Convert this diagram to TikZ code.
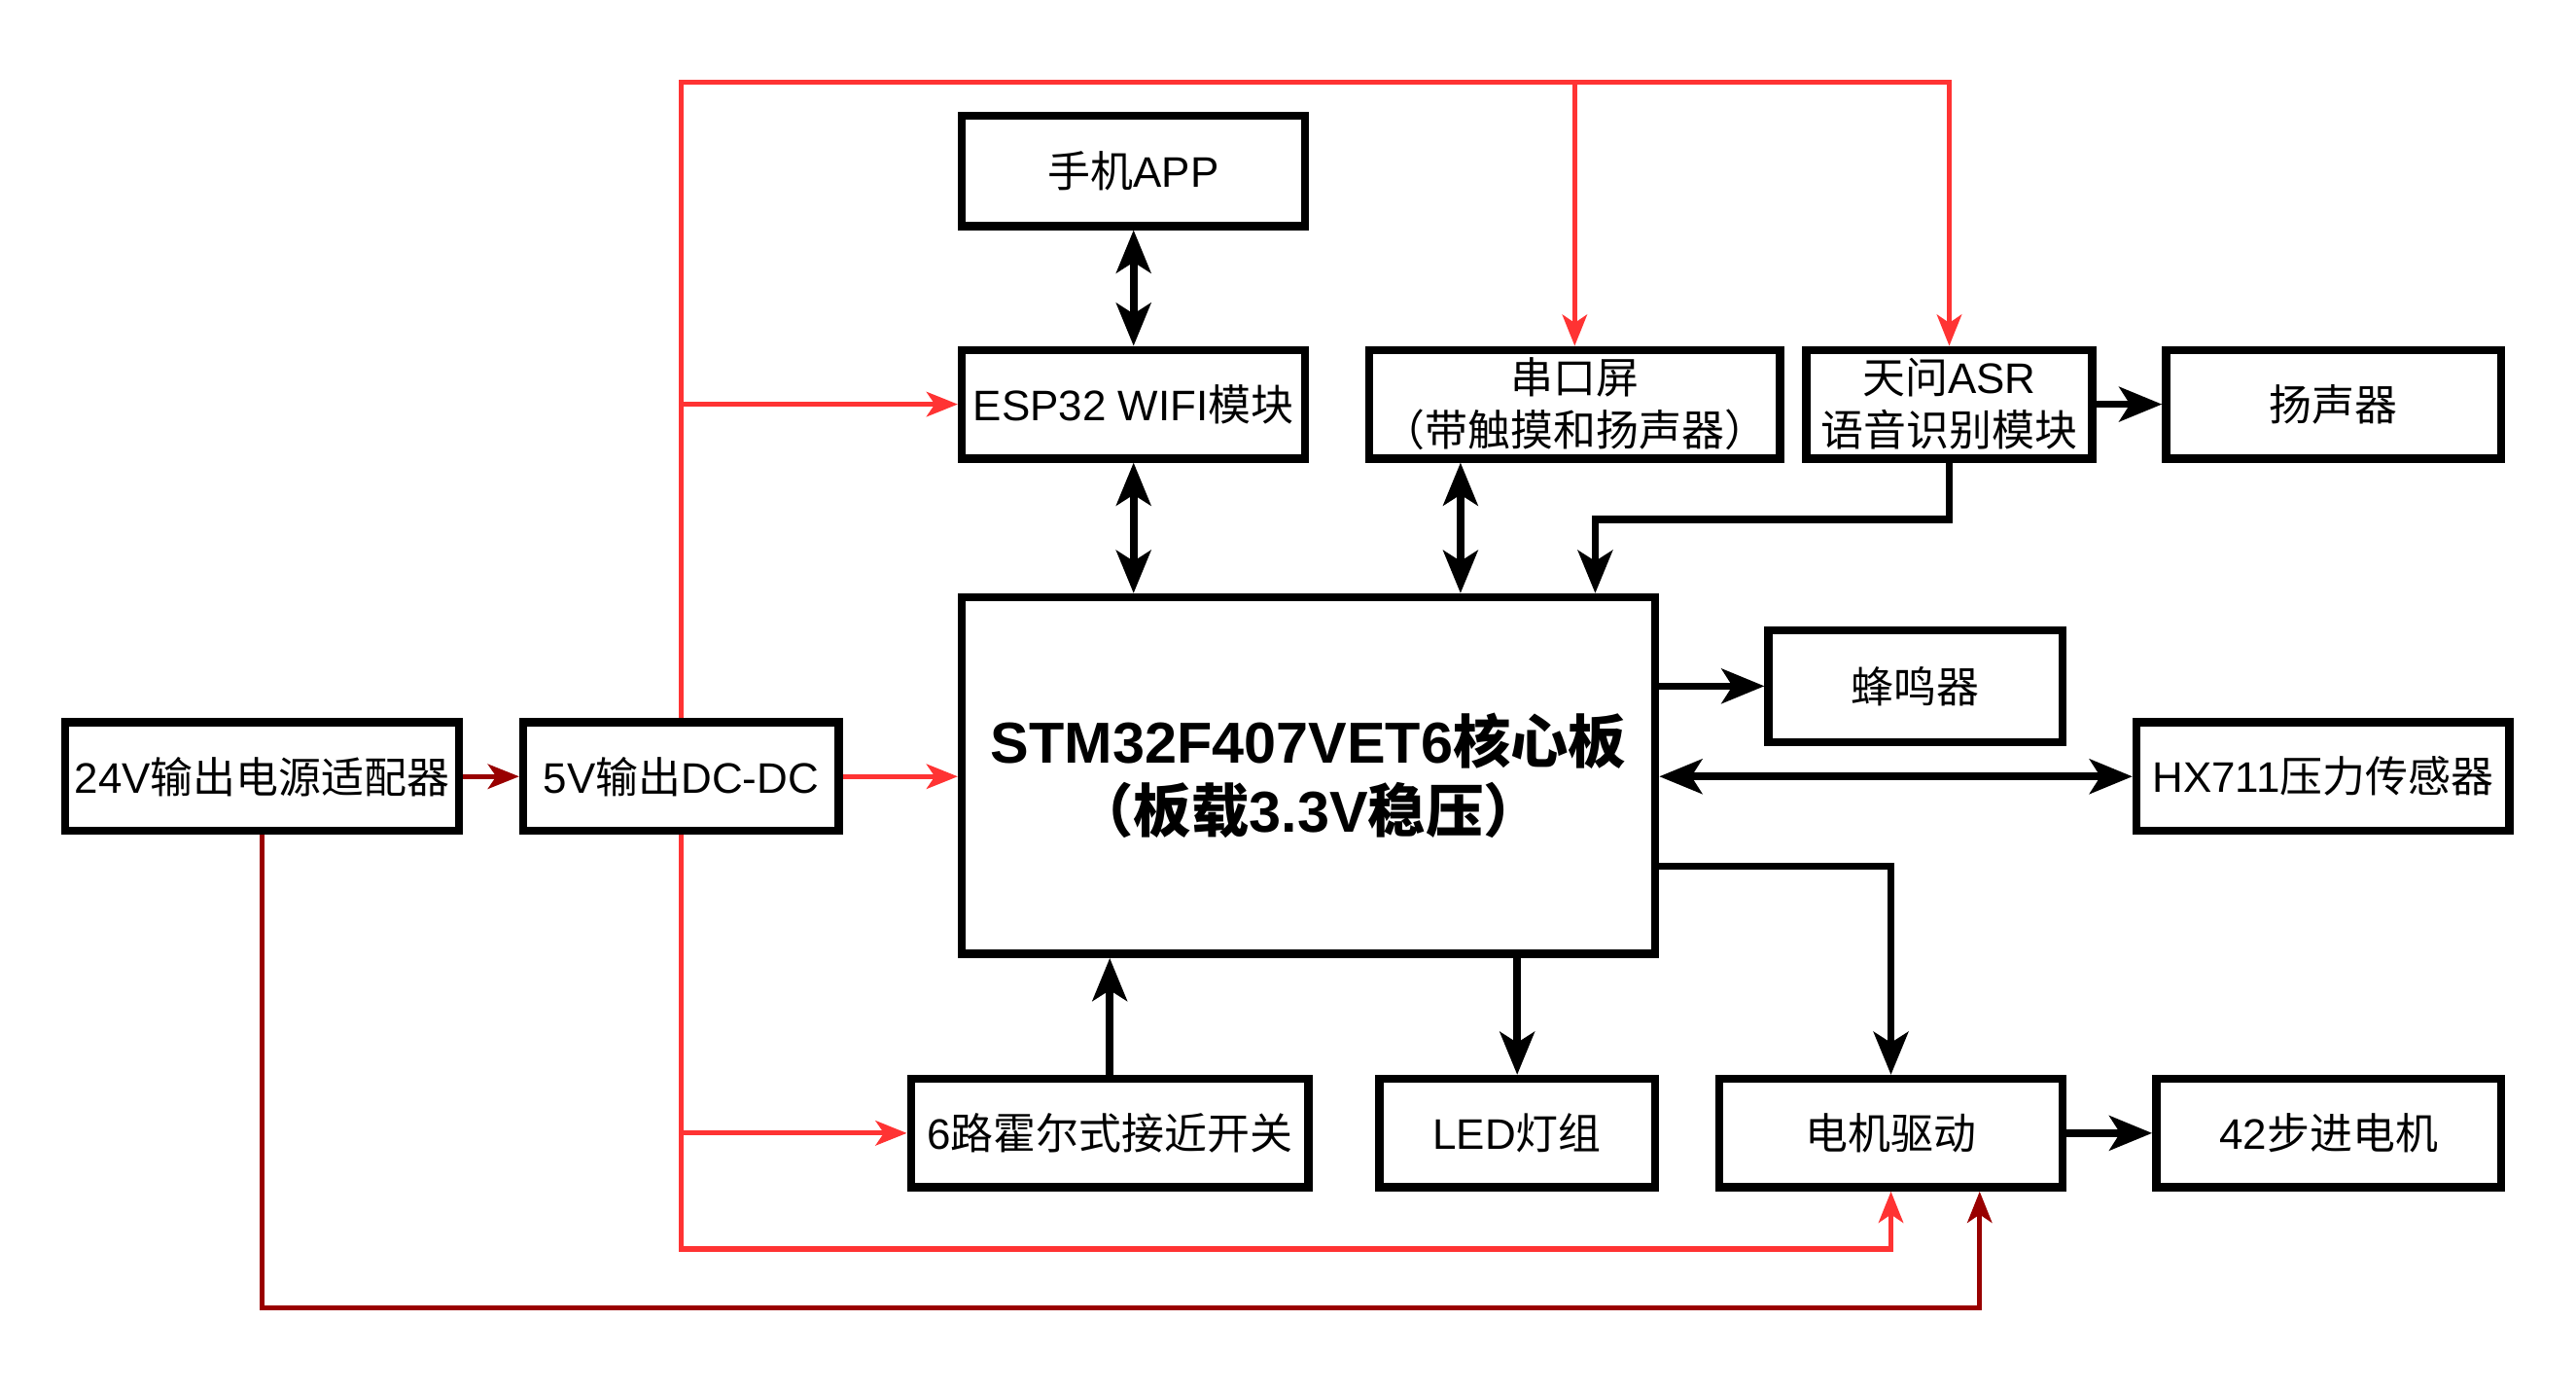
\documentclass[tikz,border=0pt]{standalone}
\usepackage{fontspec}
\setmainfont{Liberation Sans}
\newfontfamily\cjk{Noto Sans CJK SC}
\newcommand\zh[1]{{\cjk #1}}
\usepackage{xcolor}
\usetikzlibrary{arrows.meta, positioning}
\definecolor{pwrred}{HTML}{FF3333}
\definecolor{pwrdark}{HTML}{990000}

\begin{document}
\begin{tikzpicture}[x=0.2mm, y=-0.2mm,
    >={Stealth[length=5.2mm, width=4.2mm, inset=1.3mm]},
    blk/.style={draw, line width=1mm, minimum height=13.2mm, inner sep=0pt,
        align=center, font=\fontsize{14.8}{18.2}\selectfont},
    sig/.style={line width=0.9mm},
    pwr/.style={line width=0.6mm, pwrred, -{Stealth[length=3.8mm, width=3mm, inset=1mm]}},
    pwrin/.style={line width=0.6mm, pwrdark, -{Stealth[length=3.8mm, width=3mm, inset=1mm]}}]
    \useasboundingbox (0,0) rectangle (1568,847);
    % 模块
    \node[blk, minimum width=48mm] (adp) at (159.5,472.5) {24V\zh{输出电源适配器}};
    \node[blk, minimum width=38.4mm] (dcdc) at (414.5,472.5) {5V\zh{输出}DC-DC};
    \node[blk, minimum width=41.8mm, minimum height=13.4mm] (app) at (690,104) {\zh{手机}APP};
    \node[blk, minimum width=41.8mm] (esp) at (690,246) {ESP32 WIFI\zh{模块}};
    \node[blk, minimum width=50mm] (lcd) at (958.5,246) {\zh{串口屏}\\\zh{（带触摸和扬声器）}};
    \node[blk, minimum width=34.8mm] (asr) at (1186.5,246) {\zh{天问}ASR\\\zh{语音识别模块}};
    \node[blk, minimum width=40.8mm] (spk) at (1420.5,246) {\zh{扬声器}};
    \node[blk, minimum width=84.4mm, minimum height=43.4mm,
        font=\fontsize{20}{24}\selectfont\bfseries] (mcu) at (796.5,472)
        {STM32F407VET6\zh{\bfseries 核心板}\\\zh{\bfseries （板载}3.3V\zh{\bfseries 稳压）}};
    \node[blk, minimum width=35.8mm, minimum height=13.6mm] (buz) at (1166,417.5) {\zh{蜂鸣器}};
    \node[blk, minimum width=45.4mm] (hx) at (1414,472.5) {HX711\zh{压力传感器}};
    \node[blk, minimum width=48.4mm] (hall) at (675.5,689.5) {6\zh{路霍尔式接近开关}};
    \node[blk, minimum width=33.6mm] (led) at (923.5,689.5) {LED\zh{灯组}};
    \node[blk, minimum width=41.8mm] (drv) at (1151,689.5) {\zh{电机驱动}};
    \node[blk, minimum width=42mm] (stp) at (1417.5,689.5) {42\zh{步进电机}};

    % 折线拐点
    \coordinate (lcdbus) at (889,282);
    \coordinate (asrbend) at (971,316);
    \coordinate (drvbus) at (1152,527);
    \coordinate (top5) at (414,50);
    \coordinate (bot5) at (414,760);
    \coordinate (loop24) at (1205,796);

    % 信号线
    \draw[sig, <->] (app) -- (esp);
    \draw[sig, <->] (esp.south) -- (esp.south |- mcu.north);
    \draw[sig, <->] (lcd.south -| lcdbus) -- (mcu.north -| lcdbus);
    \draw[sig, ->] (asr.south) |- (asrbend) -- (asrbend |- mcu.north);
    \draw[sig, ->] (asr) -- (spk);
    \draw[sig, ->] (mcu.east |- buz) -- (buz);
    \draw[sig, <->] (mcu.east |- hx) -- (hx);
    \draw[sig, ->] (mcu.east |- drvbus) -| (drv.north);
    \draw[sig, ->] (hall.north) -- (hall.north |- mcu.south);
    \draw[sig, ->] (mcu.south -| led) -- (led.north);
    \draw[sig, ->] (drv) -- (stp);

    % 电源线
    \draw[pwrin] (adp) -- (dcdc);
    \draw[pwrin] (adp.south) |- (loop24) -- (loop24 |- drv.south);
    \draw[pwr] (dcdc) -- (dcdc -| mcu.west);
    \draw[pwr] (dcdc.north) |- (asr.north |- top5) -- (asr.north);
    \draw[pwr] (lcd.north |- top5) -- (lcd.north);
    \draw[pwr] (dcdc.north |- esp) -- (esp.west);
    \draw[pwr] (dcdc.south) |- (drv.south |- bot5) -- (drv.south);
    \draw[pwr] (dcdc.south |- hall) -- (hall.west);
\end{tikzpicture}
\end{document}
